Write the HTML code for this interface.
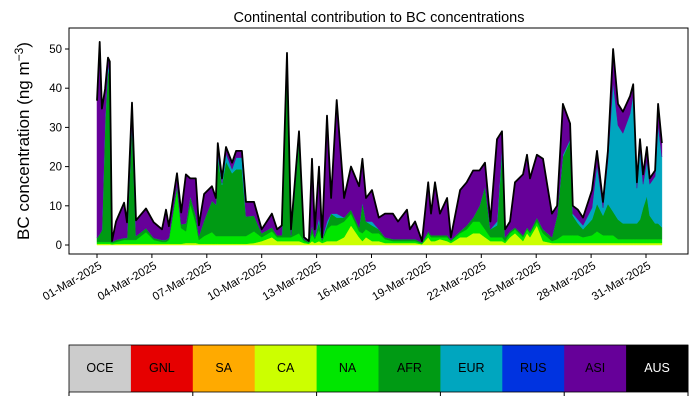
<!DOCTYPE html>
<html><head><meta charset="utf-8"><style>
body{margin:0;background:#fff;font-family:"Liberation Sans",sans-serif}
svg text{font-family:"Liberation Sans",sans-serif}
</style></head><body>
<svg id="chart" width="698" height="402" viewBox="0 0 698 402" xmlns="http://www.w3.org/2000/svg">
<text x="379" y="22" font-size="14.5" text-anchor="middle">Continental contribution to BC concentrations</text>
<text transform="translate(29,141) rotate(-90)" font-size="17" text-anchor="middle">BC concentration (ng m<tspan dy="-6" font-size="12">−3</tspan><tspan dy="6">)</tspan></text>
<g id="areas"></g>
<g id="axes"></g>
<g id="cbar"></g>
</svg>
<script>
const days=[0,0.15,0.27,0.44,0.6,0.7,0.82,1.04,1.48,1.64,1.91,2.13,2.68,3.1,3.55,3.77,3.93,4.37,4.6,4.86,5.1,5.4,5.57,5.85,6.28,6.5,6.6,6.83,7.05,7.38,7.6,7.92,8.14,8.58,9.0,9.56,9.84,10.1,10.38,10.6,11.04,11.31,11.58,11.75,11.9,12.13,12.3,12.57,12.79,13.1,13.5,13.88,14.32,14.5,14.7,15.03,15.4,15.74,16.17,16.45,16.94,17.1,17.38,17.76,18.1,18.25,18.47,18.74,19.13,19.34,19.84,20.2,20.55,20.9,21.2,21.5,21.86,22.13,22.3,22.57,22.84,23.28,23.5,23.66,24.04,24.37,24.86,25.14,25.46,25.85,26.0,26.28,26.56,27.05,27.32,27.65,27.92,28.2,28.47,28.74,29.13,29.3,29.5,29.67,29.84,30.05,30.2,30.5,30.66,30.87];
const caVals=[.3,.3,.3,.3,.3,.3,.2,.3,.3,.3,.3,.3,.3,.3,.3,.3,.3,.3,.3,.5,.5,.5,.3,.3,.3,.3,.3,.3,.3,.3,.3,.3,.3,.5,1,2,1,1,1,1,1,.5,.3,1,.5,1,.5,1,1,1,2,5,2,1,2,1,1,.5,.5,.5,.5,.5,.5,.2,2,1,1,1.5,1,.5,2,2,3,3,2,1,1,1,.5,2,3,1,3,2,5,1,.5,.5,.5,.5,.5,.5,.5,.5,.5,.5,.5,.5,.5,.5,.5,.5,.5,.5,.5,.5,.5,.5,.5,.5];
const naVals=[.5,.5,.5,.5,.5,.5,.3,.5,1,1,1,1,3,1,.5,.5,1,14,4,3,10,5,1,2,3,2,2,2,2,2,2,2,2,3,1,1.5,1,1,1,1,2,.5,.3,2,1,3,.5,3,4,4,4,3,1.5,2,2,2,2,1,.5,.5,.5,.5,.5,.2,1,1,1,.5,1,.5,1,2,3,3,2,1,1,1,.5,1,1,1,1,1,1,2,.5,1,2,2,2,2,1.5,2,3,2,2,2,1,1,1,1,1,1,1,1,1,1,1,1];
const afrVals=[1,2,3,30,44,42,.3,.5,.5,.5,30,1,1,.5,.5,.5,.5,1,1,2,2,2,1,4,8,8,20,13,19,16,17,17,5,4,1,1,.5,.5,44,.5,24,.5,.2,2,.5,2,.5,1,3,2,1,1,1,8,2,2,1,.5,.5,.5,.5,.5,.5,.2,.5,.5,.5,.5,.5,.3,.5,1,1,4,11,2,3,22,1,.5,.5,.5,.5,.5,1,1,1,6,20,24,5,3,2,4,7,5,8,6,5,4,4,4,4,5,8,11,6,4,4,3];
const eurVals=[0,0,0,1,1,1,0,0,0,0,0,0,0,0,0,0,0,0,0,0,0,0,0,0,0,0,1,.5,2,1,3,3,0,0,0,0,0,0,1,0,0,0,0,0,0,1,0,1,0,1,0,0,0,0,0,1,0,0,0,0,0,0,0,0,0,0,0,0,0,0,0,0,0,0,0,0,1,1,0,0,0,0,0,0,0,0,0,0,.5,.5,.5,1,1,3,10,2,11,33,24,23,28,33,9,18,6,9,8,12,25,18];
const asiVals=[35,49,31,8,2,3,.2,4.7,9,4,5,4,5,4,2.7,7.7,3,3,3,12.5,4.5,9.5,2.7,6.7,3.7,1.7,2.7,1.2,1.7,1.7,1.7,1.7,3.7,3.5,1,3.5,1.5,2.5,2,1.5,2,.5,.2,17,2,13,.5,27,4,29,5,11,10.5,11,6,8,3,6,6.5,4.5,7.5,2.5,4.5,.4,12.5,5.5,13.5,5.5,9.5,.7,10.5,11,12,9,6,2,21,4,2,2.5,11.5,15.5,18.5,13.5,16,18,6,2.5,13,4,2,2.5,2,4.5,3.5,1.5,2.5,8.5,5.5,5.5,4.5,2.5,1.5,2.5,2.5,3.5,1.5,1.5,5.5,3.5];
const yTicks=[0,10,20,30,40,50];
const xTickDays=[0,3,6,9,12,15,18,21,24,27,30];
const xTickLabels=["01-Mar-2025","04-Mar-2025","07-Mar-2025","10-Mar-2025","13-Mar-2025","16-Mar-2025","19-Mar-2025","22-Mar-2025","25-Mar-2025","28-Mar-2025","31-Mar-2025"];
const regions=["OCE","GNL","SA","CA","NA","AFR","EUR","RUS","ASI","AUS"];
const regionColors=["#cccccc","#e60000","#ffaa00","#ccff00","#00e600","#009a14","#00a6bf","#0033e0","#660099","#000000"];

const NS="http://www.w3.org/2000/svg";
const X0=69,X1=688,Y0=28,Y1=254;
function xs(d){return 97+d*18.3;}
function ys(v){return 245-v*3.92;}
function mk(t,a,p){const e=document.createElementNS(NS,t);for(const k in a)e.setAttribute(k,a[k]);p.appendChild(e);return e;}

const areas=document.getElementById('areas');
const series=[["ca-area",caVals,"#ccff00"],["na-area",naVals,"#00e600"],["afr-area",afrVals,"#009a14"],["eur-area",eurVals,"#00a6bf"],["asi-area",asiVals,"#660099"]];
let base=days.map(()=>0);
series.forEach(s=>{
  const top=base.map((b,i)=>b+s[1][i]);
  let d="M"+days.map((t,i)=>xs(t).toFixed(1)+","+ys(top[i]).toFixed(1)).join("L");
  for(let i=days.length-1;i>=0;i--)d+="L"+xs(days[i]).toFixed(1)+","+ys(base[i]).toFixed(1);
  const p=mk('path',{d:d+"Z",fill:s[2],stroke:s[2],"stroke-width":0.5},areas);
  
  
  base=top;
});
const tl=mk('path',{d:"M"+days.map((t,i)=>xs(t).toFixed(1)+","+ys(base[i]).toFixed(1)).join("L"),fill:"none",stroke:"#000","stroke-width":1.8,"stroke-linejoin":"round"},areas);



const ax=document.getElementById('axes');
const fr=mk('rect',{x:X0,y:Y0,width:X1-X0,height:Y1-Y0,fill:"none",stroke:"#000","stroke-width":1},ax);


yTicks.forEach(v=>{
  mk('line',{x1:X0-4,x2:X0,y1:ys(v),y2:ys(v),stroke:"#000"},ax);
  const t=mk('text',{x:X0-7,y:ys(v)+4,"font-size":11.5,"text-anchor":"end"},ax);
  t.textContent=v;
  
  
});
xTickDays.forEach((d,i)=>{
  const x=xs(d);
  mk('line',{x1:x,x2:x,y1:Y1,y2:Y1+4,stroke:"#000"},ax);
  const t=mk('text',{transform:`translate(${x+1},${Y1+6}) rotate(-30) translate(0,9)`,"font-size":11.5,"text-anchor":"end"},ax);
  t.textContent=xTickLabels[i];
  
  
});

const cb=document.getElementById('cbar');
const cw=(X1-X0)/regions.length;
regions.forEach((r,i)=>{
  const g=mk('g',{},cb);
  
  
  mk('rect',{x:X0+i*cw,y:345,width:cw+0.5,height:47,fill:regionColors[i]},g);
  const t=mk('text',{x:X0+i*cw+cw/2,y:372,"font-size":12.5,"text-anchor":"middle",fill:r==="AUS"?"#fff":"#000"},g);
  t.textContent=r;
});
mk('rect',{x:X0,y:345,width:X1-X0,height:47,fill:"none",stroke:"#000","stroke-width":0.8},cb);
[0,2,4,6,8,10].forEach(k=>{const x=X0+k*cw;mk('line',{x1:x,x2:x,y1:392,y2:396,stroke:"#000"},cb);});
</script>
</body></html>
